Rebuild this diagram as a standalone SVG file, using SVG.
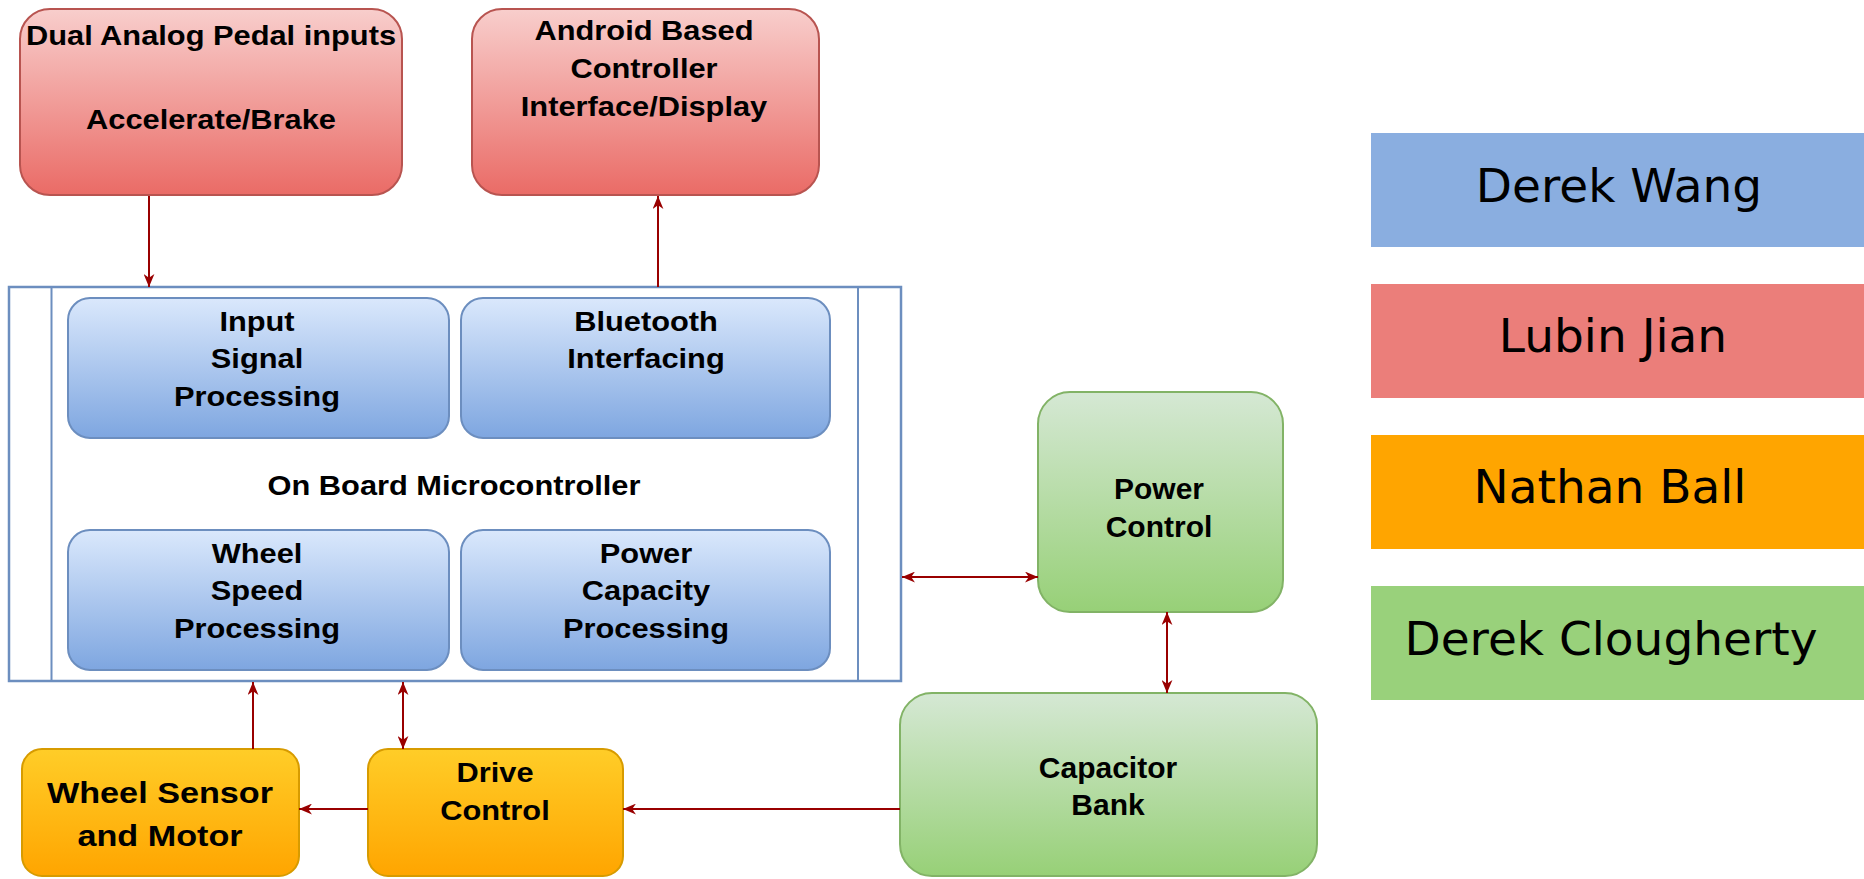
<svg xmlns="http://www.w3.org/2000/svg" width="1864" height="879" viewBox="0 0 1864 879">
<defs>
<linearGradient id="gRed" x1="0" y1="0" x2="0" y2="1"><stop offset="0" stop-color="#f8cecc"/><stop offset="1" stop-color="#ea6b66"/></linearGradient>
<linearGradient id="gBlue" x1="0" y1="0" x2="0" y2="1"><stop offset="0" stop-color="#dae8fc"/><stop offset="1" stop-color="#7ea6e0"/></linearGradient>
<linearGradient id="gOrange" x1="0" y1="0" x2="0" y2="1"><stop offset="0" stop-color="#ffcd28"/><stop offset="1" stop-color="#ffa500"/></linearGradient>
<linearGradient id="gGreen" x1="0" y1="0" x2="0" y2="1"><stop offset="0" stop-color="#d5e8d4"/><stop offset="1" stop-color="#97d077"/></linearGradient>
<marker id="arr" viewBox="0 0 12 10" refX="12" refY="5" markerWidth="13" markerHeight="11" markerUnits="userSpaceOnUse" orient="auto-start-reverse"><path d="M0,0 L12,5 L0,10 L3.5,5 z" fill="#990000"/></marker>
</defs>
<style>
.red{fill:url(#gRed);stroke:#b85450;stroke-width:2}
.blue{fill:url(#gBlue);stroke:#6c8ebf;stroke-width:2}
.orange{fill:url(#gOrange);stroke:#d79b00;stroke-width:2}
.green{fill:url(#gGreen);stroke:#82b366;stroke-width:2}
.frame{fill:#ffffff;stroke:#6c8ebf;stroke-width:2.5}
.t{font-family:"Liberation Sans",Arial,sans-serif;font-weight:bold;font-size:28px;fill:#000;text-anchor:middle}
.t2{font-family:"Liberation Sans",Arial,sans-serif;font-weight:bold;font-size:30px;fill:#000;text-anchor:middle}
.lg{font-family:"DejaVu Sans",Verdana,sans-serif;font-size:47px;fill:#000;text-anchor:middle}
.c{stroke:#990000;stroke-width:2;fill:none}
</style>
<rect width="1864" height="879" fill="#ffffff"/>

<g id="pedal">
<rect class="red" x="20" y="9" width="382" height="186" rx="30"/>
<text class="t" transform="translate(211 45) scale(1.1 1)">Dual Analog Pedal inputs</text>
<text class="t" transform="translate(211 129) scale(1.1 1)">Accelerate/Brake</text>
</g>

<g id="android">
<rect class="red" x="472" y="9" width="347" height="186" rx="30"/>
<text class="t" transform="translate(644 40) scale(1.1 1)">Android Based</text>
<text class="t" transform="translate(644 78) scale(1.1 1)">Controller</text>
<text class="t" transform="translate(644 116) scale(1.1 1)">Interface/Display</text>
</g>

<g id="microcontroller">
<rect class="frame" x="9" y="287" width="892" height="394"/>
<line x1="51.5" y1="287" x2="51.5" y2="681" stroke="#6c8ebf" stroke-width="2"/>
<line x1="858" y1="287" x2="858" y2="681" stroke="#6c8ebf" stroke-width="2"/>
<text class="t" transform="translate(454 495) scale(1.1 1)">On Board Microcontroller</text>
</g>

<g id="input-signal">
<rect class="blue" x="68" y="298" width="381" height="140" rx="22"/>
<text class="t" transform="translate(257 331) scale(1.1 1)">Input</text>
<text class="t" transform="translate(257 368) scale(1.1 1)">Signal</text>
<text class="t" transform="translate(257 406) scale(1.1 1)">Processing</text>
</g>

<g id="bluetooth">
<rect class="blue" x="461" y="298" width="369" height="140" rx="22"/>
<text class="t" transform="translate(646 331) scale(1.1 1)">Bluetooth</text>
<text class="t" transform="translate(646 368) scale(1.1 1)">Interfacing</text>
</g>

<g id="wheel-speed">
<rect class="blue" x="68" y="530" width="381" height="140" rx="22"/>
<text class="t" transform="translate(257 563) scale(1.1 1)">Wheel</text>
<text class="t" transform="translate(257 600) scale(1.1 1)">Speed</text>
<text class="t" transform="translate(257 638) scale(1.1 1)">Processing</text>
</g>

<g id="power-capacity">
<rect class="blue" x="461" y="530" width="369" height="140" rx="22"/>
<text class="t" transform="translate(646 563) scale(1.1 1)">Power</text>
<text class="t" transform="translate(646 600) scale(1.1 1)">Capacity</text>
<text class="t" transform="translate(646 638) scale(1.1 1)">Processing</text>
</g>

<g id="power-control">
<rect class="green" x="1038" y="392" width="245" height="220" rx="32"/>
<text class="t2" x="1159" y="499">Power</text>
<text class="t2" x="1159" y="537">Control</text>
</g>

<g id="capacitor-bank">
<rect class="green" x="900" y="693" width="417" height="183" rx="32"/>
<text class="t2" x="1108" y="778">Capacitor</text>
<text class="t2" x="1108" y="815">Bank</text>
</g>

<g id="wheel-sensor">
<rect class="orange" x="22" y="749" width="277" height="127" rx="20"/>
<text class="t" style="font-size:30px" transform="translate(160 803) scale(1.14 1)">Wheel Sensor</text>
<text class="t" style="font-size:30px" transform="translate(160 846) scale(1.14 1)">and Motor</text>
</g>

<g id="drive-control">
<rect class="orange" x="368" y="749" width="255" height="127" rx="20"/>
<text class="t" transform="translate(495 782) scale(1.1 1)">Drive</text>
<text class="t" transform="translate(495 820) scale(1.1 1)">Control</text>
</g>

<g id="connectors">
<line class="c" x1="149" y1="196" x2="149" y2="287" marker-end="url(#arr)"/>
<line class="c" x1="658" y1="287" x2="658" y2="196" marker-end="url(#arr)"/>
<line class="c" x1="253" y1="749" x2="253" y2="682" marker-end="url(#arr)"/>
<line class="c" x1="403" y1="749" x2="403" y2="682" marker-start="url(#arr)" marker-end="url(#arr)"/>
<line class="c" x1="368" y1="809" x2="299" y2="809" marker-end="url(#arr)"/>
<line class="c" x1="900" y1="809" x2="623" y2="809" marker-end="url(#arr)"/>
<line class="c" x1="902" y1="577" x2="1038" y2="577" marker-start="url(#arr)" marker-end="url(#arr)"/>
<line class="c" x1="1167" y1="612" x2="1167" y2="693" marker-start="url(#arr)" marker-end="url(#arr)"/>
</g>

<g id="legend">
<rect x="1371" y="133" width="500" height="114" fill="#8aaee0"/>
<text class="lg" x="1619" y="202">Derek Wang</text>
<rect x="1371" y="284" width="500" height="114" fill="#eb7e7a"/>
<text class="lg" x="1613" y="352">Lubin Jian</text>
<rect x="1371" y="435" width="500" height="114" fill="#ffa500"/>
<text class="lg" x="1610" y="503">Nathan Ball</text>
<rect x="1371" y="586" width="500" height="114" fill="#99d17b"/>
<text class="lg" x="1611" y="655">Derek Clougherty</text>
</g>
</svg>
